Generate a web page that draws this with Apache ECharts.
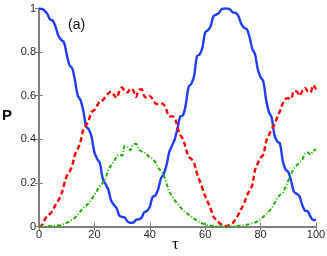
<!DOCTYPE html>
<html><head><meta charset="utf-8">
<script src="https://cdn.jsdelivr.net/npm/echarts@6/dist/echarts.min.js"></script>
<style>html,body{margin:0;padding:0;background:#fff}#c{width:327px;height:256px}</style>
</head><body><div id="c"></div>
<script>
const tau = [0,1,2,3,4,5,6,7,8,9,10,11,12,13,14,15,16,17,18,19,20,21,22,23,24,25,26,27,28,29,30,31,32,33,34,35,36,37,38,39,40,41,42,43,44,45,46,47,48,49,50,51,52,53,54,55,56,57,58,59,60,61,62,63,64,65,66,67,68,69,70,71,72,73,74,75,76,77,78,79,80,81,82,83,84,85,86,87,88,89,90,91,92,93,94,95,96,97,98,99,100];
const blueP = [1.000,0.998,0.99,0.975,0.950,0.944,0.915,0.875,0.856,0.845,0.79,0.740,0.725,0.67,0.60,0.58,0.53,0.46,0.445,0.41,0.34,0.31,0.29,0.22,0.195,0.17,0.12,0.10,0.085,0.05,0.044,0.04,0.022,0.017,0.018,0.03,0.033,0.04,0.065,0.072,0.09,0.135,0.142,0.17,0.22,0.24,0.28,0.34,0.37,0.40,0.45,0.505,0.51,0.56,0.64,0.655,0.69,0.78,0.79,0.82,0.89,0.90,0.92,0.965,0.972,0.98,0.998,1.0,1.0,0.995,0.982,0.98,0.965,0.93,0.912,0.905,0.87,0.815,0.79,0.72,0.685,0.665,0.58,0.525,0.50,0.42,0.39,0.38,0.30,0.262,0.25,0.21,0.16,0.15,0.14,0.10,0.073,0.07,0.045,0.03,0.03];
const redP = [0.0,0.005,0.03,0.05,0.058,0.075,0.10,0.12,0.145,0.19,0.23,0.25,0.28,0.33,0.355,0.39,0.445,0.465,0.49,0.525,0.535,0.555,0.575,0.58,0.595,0.61,0.618,0.605,0.59,0.62,0.638,0.62,0.615,0.632,0.625,0.595,0.625,0.63,0.598,0.59,0.598,0.585,0.565,0.562,0.565,0.56,0.535,0.505,0.505,0.50,0.455,0.42,0.40,0.36,0.32,0.31,0.29,0.245,0.21,0.175,0.14,0.11,0.08,0.045,0.03,0.018,0.008,0.002,0.003,0.01,0.017,0.035,0.055,0.08,0.105,0.14,0.165,0.19,0.26,0.29,0.315,0.33,0.39,0.42,0.445,0.47,0.50,0.53,0.565,0.585,0.588,0.585,0.62,0.62,0.60,0.62,0.635,0.62,0.615,0.648,0.63];
const greenP = [0,0,0,0.001,0.002,0.003,0.004,0.005,0.007,0.012,0.017,0.024,0.032,0.04,0.055,0.07,0.086,0.095,0.108,0.125,0.145,0.165,0.186,0.20,0.22,0.26,0.28,0.296,0.32,0.33,0.325,0.37,0.365,0.35,0.375,0.38,0.355,0.345,0.34,0.33,0.316,0.31,0.295,0.27,0.255,0.235,0.20,0.16,0.14,0.12,0.105,0.09,0.075,0.065,0.055,0.045,0.035,0.028,0.019,0.014,0.01,0.006,0.004,0.002,0.001,0,0,0,0,0,0.001,0.002,0.003,0.005,0.006,0.008,0.011,0.015,0.018,0.025,0.035,0.045,0.056,0.07,0.085,0.105,0.13,0.145,0.155,0.18,0.21,0.24,0.265,0.28,0.293,0.305,0.335,0.34,0.33,0.345,0.355];
const xTicks = [0,20,40,60,80,100];
const yTicks = [0,0.2,0.4,0.6,0.8,1];

const pairs = ys => tau.map((t,i)=>[t, ys[i]]);
const axisGray = '#7f7f7f';
const chart = echarts.init(document.getElementById('c'), null, {renderer:'canvas'});
const baseX = {type:'value', min:xTicks[0], max:xTicks[xTicks.length-1], interval:20, splitLine:{show:false}};
const baseY = {type:'value', min:yTicks[0], max:yTicks[yTicks.length-1], interval:0.2, splitLine:{show:false}};
chart.setOption({
  animation:false,
  grid:{left:39, right:11, top:8.5, bottom:29.5, containLabel:false, outerBoundsMode:'none'},
  xAxis:[
    Object.assign({}, baseX, {position:'bottom',
      axisLine:{lineStyle:{color:axisGray, width:2}},
      axisTick:{inside:true, length:4, lineStyle:{color:axisGray, width:1}},
      axisLabel:{color:'#262626', fontSize:11, fontFamily:'Liberation Sans', margin:3}}),
    Object.assign({}, baseX, {position:'top',
      axisLine:{lineStyle:{color:axisGray, width:1}},
      axisTick:{inside:true, length:4, lineStyle:{color:axisGray, width:1}},
      axisLabel:{show:false}})
  ],
  yAxis:[
    Object.assign({}, baseY, {position:'left',
      axisLine:{lineStyle:{color:axisGray, width:2}},
      axisTick:{inside:true, length:4, lineStyle:{color:axisGray, width:1}},
      axisLabel:{color:'#262626', fontSize:11, fontFamily:'Liberation Sans', margin:3}}),
    Object.assign({}, baseY, {position:'right',
      axisLine:{lineStyle:{color:axisGray, width:1}},
      axisTick:{inside:true, length:4, lineStyle:{color:axisGray, width:1}},
      axisLabel:{show:false}})
  ],
  series:[
    {type:'line', data:pairs(blueP), showSymbol:false, smooth:0.35,
      lineStyle:{color:'#1f3dff', width:2.4}},
    {type:'line', data:pairs(redP), showSymbol:false, smooth:0.35,
      lineStyle:{color:'#ff0000', width:2.4, type:[5,3]}},
    {type:'line', data:pairs(greenP), showSymbol:false, smooth:0.35,
      lineStyle:{color:'#22b000', width:2, type:[4,2,1,2]}}
  ],
  graphic:[
    {type:'text', left:68, top:18, style:{text:'(a)', fontSize:14, fontFamily:'Liberation Sans', fill:'#111'}},
    {type:'text', left:2, top:108, style:{text:'P', fontSize:15, fontWeight:'bold', fontFamily:'Liberation Sans', fill:'#111'}},
    {type:'text', left:172, top:236, style:{text:'τ', fontSize:17, fontFamily:'Liberation Serif', fill:'#111'}}
  ]
});
</script></body></html>
